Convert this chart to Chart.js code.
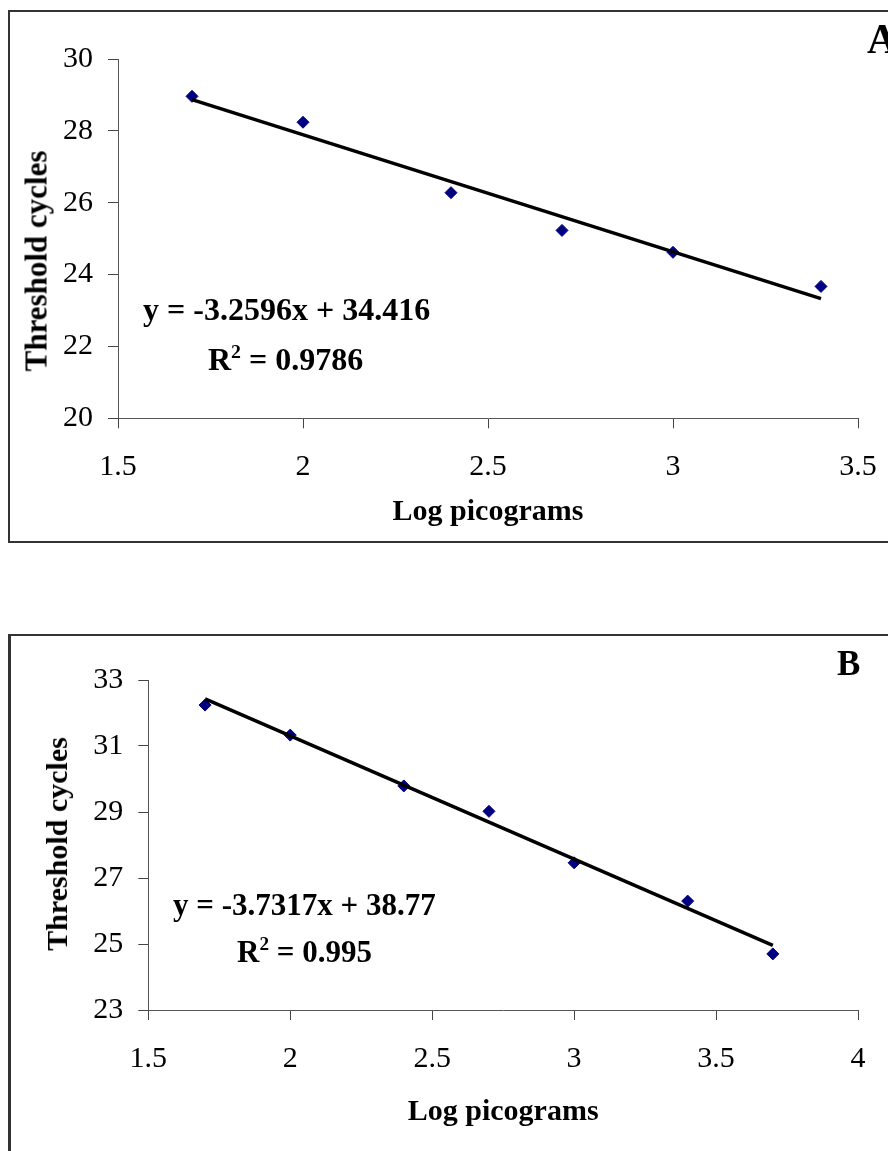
<!DOCTYPE html>
<html lang="en">
<head>
<meta charset="UTF-8">
<title>Threshold cycles vs log picograms</title>
<script src="https://cdn.jsdelivr.net/npm/chart.js"></script>
<style>
    html, body {
        margin: 0;
        padding: 0;
        background: #fff;
    }
    body {
        position: relative;
        width: 888px;
        height: 1151px;
        overflow: hidden;
        font-family: "Liberation Serif", "Times New Roman", serif;
        color: #000;
    }
    .frame {
        position: absolute;
        box-sizing: border-box;
        border: 2px solid #333;
    }
    #frameA { left: 8px; top: 10px; width: 1000px; height: 533px; }
    #frameB { left: 8px; top: 634px; width: 1000px; height: 600px; border-left-width: 3px; }
    canvas {
        position: absolute;
        left: 0;
    }
    #chartA { top: 0; }
    #chartB { top: 620px; }
    .note {
        position: absolute;
        font-weight: bold;
        line-height: 1;
        white-space: nowrap;
    }
    .note sup {
        font-size: 0.62em;
        line-height: 0;
        vertical-align: 0.6em;
    }
    .ytitle {
        position: absolute;
        font-weight: bold;
        line-height: 1;
        white-space: nowrap;
        transform: translate(-50%, -50%) rotate(-90deg);
    }
</style>
</head>
<body>

<div class="frame" id="frameA"></div>
<div class="frame" id="frameB"></div>

<canvas id="chartA" width="888" height="560"></canvas>
<canvas id="chartB" width="888" height="531"></canvas>

<!-- panel A labels -->
<div class="note" style="left:867px; top:18px; font-size:42px;">A</div>
<div class="ytitle" style="left:36px; top:261px; font-size:31px;">Threshold cycles</div>
<div class="note" style="left:143px; top:293px; font-size:32px;">y = -3.2596x + 34.416</div>
<div class="note" style="left:208px; top:343px; font-size:32px;">R<sup>2</sup> = 0.9786</div>

<!-- panel B labels -->
<div class="note" style="left:837px; top:646px; font-size:35px;">B</div>
<div class="ytitle" style="left:57px; top:844px; font-size:30px;">Threshold cycles</div>
<div class="note" style="left:173px; top:889px; font-size:31px;">y = -3.7317x + 38.77</div>
<div class="note" style="left:237px; top:936px; font-size:31px;">R<sup>2</sup> = 0.995</div>

<script>
    // panel A: log picograms vs threshold cycle
    const logPgA = [1.7, 2.0, 2.4, 2.7, 3.0, 3.4];
    const ctA = [28.96, 28.24, 26.28, 25.23, 24.62, 23.67];
    // fitted line end points as drawn in the figure
    const trendXA = [1.7, 3.4];
    const trendYA = [28.87, 23.33];
    const xTicksA = [1.5, 2, 2.5, 3, 3.5];
    const yTicksA = [20, 22, 24, 26, 28, 30];

    // panel B
    const logPgB = [1.7, 2.0, 2.4, 2.7, 3.0, 3.4, 3.7];
    const ctB = [32.24, 31.33, 29.79, 29.02, 27.46, 26.30, 24.70];
    const trendXB = [1.7, 3.7];
    const trendYB = [32.43, 24.96];
    const xTicksB = [1.5, 2, 2.5, 3, 3.5, 4];
    const yTicksB = [23, 25, 27, 29, 31, 33];

    const serif = "'Liberation Serif', 'Times New Roman', serif";

    function pairs(xs, ys) {
        return xs.map((x, i) => ({x: x, y: ys[i]}));
    }

    function axisStyle() {
        return {
            border: {display: true, color: '#555', width: 1},
            grid: {drawOnChartArea: false, drawTicks: true, tickLength: 10, color: '#444'}
        };
    }

    function makeChart(id, xs, ys, tx, ty, xTicks, yTicks, box) {
        new Chart(document.getElementById(id), {
            type: 'scatter',
            data: {
                datasets: [{
                    data: pairs(tx, ty),
                    showLine: true,
                    borderColor: '#000',
                    borderWidth: 3.5,
                    borderCapStyle: 'butt',
                    pointRadius: 0,
                    order: 0
                }, {
                    data: pairs(xs, ys),
                    pointStyle: 'rectRot',
                    pointRadius: 6,
                    backgroundColor: '#000080',
                    borderColor: '#000080',
                    borderWidth: 1,
                    order: 1
                }]
            },
            options: {
                responsive: false,
                animation: false,
                devicePixelRatio: 1,
                layout: {padding: {top: box.top, right: 30, bottom: 0, left: 0}},
                plugins: {legend: {display: false}, tooltip: {enabled: false}},
                scales: {
                    x: Object.assign(axisStyle(), {
                        type: 'linear',
                        min: xTicks[0],
                        max: xTicks[xTicks.length - 1],
                        afterBuildTicks: s => { s.ticks = xTicks.map(v => ({value: v})); },
                        afterFit: s => {
                            s.height = box.xHeight;
                            s.paddingLeft = 0;
                            s.paddingRight = 0;
                        },
                        ticks: {
                            color: '#000',
                            padding: 21,
                            maxRotation: 0,
                            font: {family: serif, size: 30},
                            callback: v => String(v)
                        },
                        title: {
                            display: true,
                            text: 'Log picograms',
                            color: '#000',
                            font: {family: serif, size: 30, weight: 'bold'},
                            padding: {top: 0, bottom: box.titlePad}
                        }
                    }),
                    y: Object.assign(axisStyle(), {
                        type: 'linear',
                        min: yTicks[0],
                        max: yTicks[yTicks.length - 1],
                        afterBuildTicks: s => { s.ticks = yTicks.map(v => ({value: v})); },
                        afterFit: s => {
                            s.width = box.yWidth;
                            s.paddingTop = 0;
                            s.paddingBottom = 0;
                        },
                        ticks: {
                            color: '#000',
                            padding: 15,
                            font: {family: serif, size: 30},
                            callback: v => String(v)
                        }
                    })
                }
            }
        });
    }

    makeChart('chartA', logPgA, ctA, trendXA, trendYA, xTicksA, yTicksA,
        {top: 59, xHeight: 141.7, yWidth: 118, titlePad: 30});
    makeChart('chartB', logPgB, ctB, trendXB, trendYB, xTicksB, yTicksB,
        {top: 60, xHeight: 141, yWidth: 148.3, titlePad: 21});
</script>
</body>
</html>
